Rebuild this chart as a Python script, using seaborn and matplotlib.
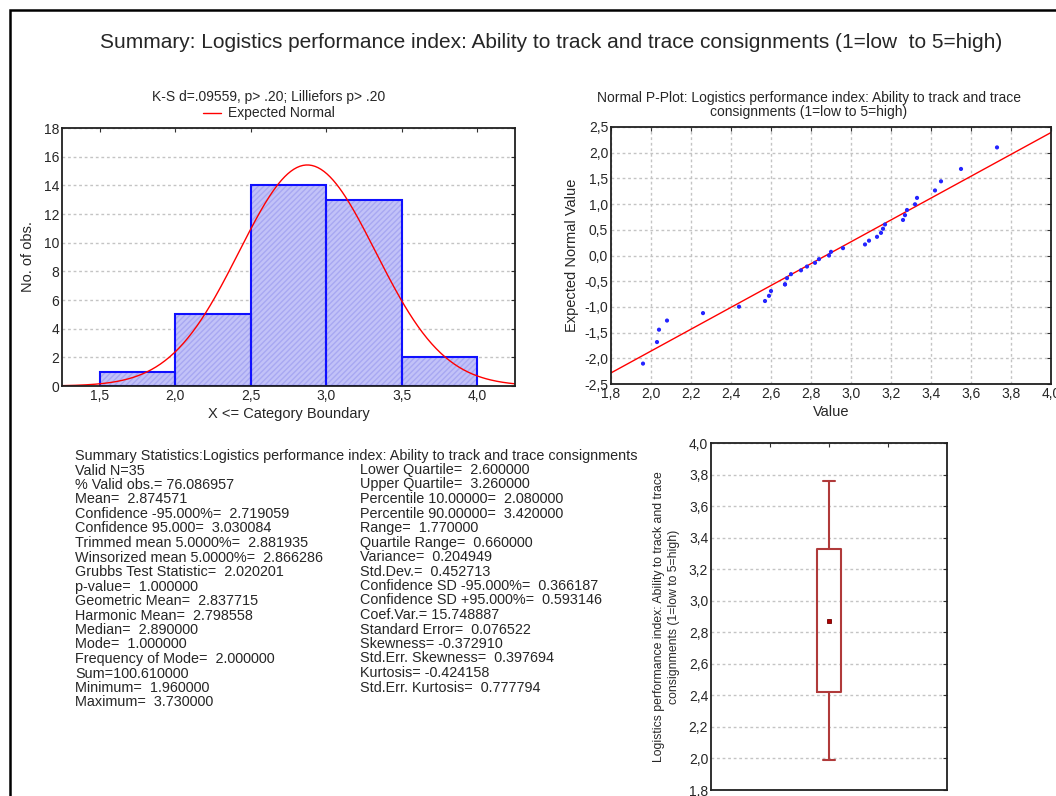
import numpy as np
import pandas as pd
import matplotlib
matplotlib.use('Agg')
import matplotlib.pyplot as plt
from matplotlib.patches import Rectangle
from matplotlib.ticker import FuncFormatter
from statistics import NormalDist
import seaborn as sns

sns.set_style('white')
plt.rcParams['font.family'] = ['Liberation Sans', 'DejaVu Sans']

values = [1.96, 2.03, 2.04, 2.08, 2.26, 2.44, 2.57, 2.59, 2.60, 2.67, 2.67, 2.68,
          2.70, 2.75, 2.78, 2.82, 2.84, 2.89, 2.90, 2.96, 3.07, 3.09, 3.13, 3.15,
          3.16, 3.17, 3.26, 3.27, 3.28, 3.32, 3.33, 3.42, 3.45, 3.55, 3.73]
bin_edges = [1.5, 2.0, 2.5, 3.0, 3.5, 4.0]
mean_val = 2.874571
sd_val = 0.452713

main_title = 'Summary: Logistics performance index: Ability to track and trace consignments (1=low  to 5=high)'
hist_title = 'K-S d=.09559, p> .20; Lilliefors p> .20'
pplot_title = 'Normal P-Plot: Logistics performance index: Ability to track and trace\nconsignments (1=low to 5=high)'
box_ylabel = 'Logistics performance index: Ability to track and trace\nconsignments (1=low to 5=high)'

stats_left = [
    'Summary Statistics:Logistics performance index: Ability to track and trace consignments',
    'Valid N=35',
    '% Valid obs.= 76.086957',
    'Mean=  2.874571',
    'Confidence -95.000%=  2.719059',
    'Confidence 95.000=  3.030084',
    'Trimmed mean 5.0000%=  2.881935',
    'Winsorized mean 5.0000%=  2.866286',
    'Grubbs Test Statistic=  2.020201',
    'p-value=  1.000000',
    'Geometric Mean=  2.837715',
    'Harmonic Mean=  2.798558',
    'Median=  2.890000',
    'Mode=  1.000000',
    'Frequency of Mode=  2.000000',
    'Sum=100.610000',
    'Minimum=  1.960000',
    'Maximum=  3.730000',
]
stats_right = [
    'Lower Quartile=  2.600000',
    'Upper Quartile=  3.260000',
    'Percentile 10.00000=  2.080000',
    'Percentile 90.00000=  3.420000',
    'Range=  1.770000',
    'Quartile Range=  0.660000',
    'Variance=  0.204949',
    'Std.Dev.=  0.452713',
    'Confidence SD -95.000%=  0.366187',
    'Confidence SD +95.000%=  0.593146',
    'Coef.Var.= 15.748887',
    'Standard Error=  0.076522',
    'Skewness= -0.372910',
    'Std.Err. Skewness=  0.397694',
    'Kurtosis= -0.424158',
    'Std.Err. Kurtosis=  0.777794',
]

df = pd.DataFrame({'value': values})
n = len(df)
ranks = df['value'].rank(method='average')
nd = NormalDist()
df['expected'] = [nd.inv_cdf((r - 0.375) / (n + 0.25)) for r in ranks]

W, H = 1056, 796
fig = plt.figure(figsize=(W / 100, H / 100), dpi=100)


def px(x0, y0, x1, y1):
    return [x0 / W, 1 - y1 / H, (x1 - x0) / W, (y1 - y0) / H]


comma = FuncFormatter(lambda v, _: f'{v:.1f}'.replace('.', ','))
grid_kw = dict(color='#c4c4c4', linestyle=(0, (2, 2)), linewidth=1.0)


def style_axes(ax):
    for s in ax.spines.values():
        s.set_color('#202020')
        s.set_linewidth(1.3)
    ax.tick_params(direction='in', top=True, right=True, length=3,
                   labelsize=10, color='#303030', pad=2)


# ---- histogram ----
ax1 = fig.add_axes(px(62, 128, 515, 386))
sns.histplot(x=values, bins=bin_edges, ax=ax1, stat='count',
             color='#c2c2f8', edgecolor='#a8a8f2', linewidth=0, hatch='//////',
             alpha=1)
sns.histplot(x=values, bins=bin_edges, ax=ax1, stat='count', fill=False,
             color='#1010ff', linewidth=1.5)
xs = np.linspace(1.25, 4.25, 300)
ys = n * 0.5 * np.array([NormalDist(mean_val, sd_val).pdf(v) for v in xs])
sns.lineplot(x=xs, y=ys, ax=ax1, color='#ff0000', linewidth=1.0)
ax1.set_xlim(1.25, 4.25)
ax1.set_ylim(0, 18)
ax1.set_yticks(range(0, 19, 2))
ax1.set_xticks(bin_edges)
ax1.xaxis.set_major_formatter(comma)
ax1.yaxis.grid(True, **grid_kw)
ax1.set_axisbelow(True)
style_axes(ax1)
ax1.set_xlabel('X <= Category Boundary', fontsize=10.5, labelpad=3)
ax1.set_ylabel('No. of obs.', fontsize=10.5, labelpad=6)
fig.text(269 / W, 1 - 97 / H, hist_title, ha='center', va='center', fontsize=10)
fig.add_artist(plt.Line2D([203 / W, 221 / W], [1 - 113 / H, 1 - 113 / H],
                          color='#ff0000', linewidth=1.0))
fig.text(228 / W, 1 - 113 / H, 'Expected Normal', ha='left', va='center', fontsize=10)

# ---- normal probability plot ----
ax2 = fig.add_axes(px(611, 127, 1051, 384))
slope, intercept = np.polyfit(df['value'], df['expected'], 1)
lx = np.array([1.8, 4.0])
sns.lineplot(x=lx, y=slope * lx + intercept, ax=ax2, color='#ff0000', linewidth=1.0)
sns.scatterplot(data=df, x='value', y='expected', ax=ax2, color='#2424ff',
                s=9, edgecolor='none', zorder=3)
ax2.set_xlim(1.8, 4.0)
ax2.set_ylim(-2.5, 2.5)
ax2.set_xticks(np.arange(1.8, 4.01, 0.2))
ax2.set_yticks(np.arange(-2.5, 2.51, 0.5))
ax2.xaxis.set_major_formatter(comma)
ax2.yaxis.set_major_formatter(comma)
ax2.grid(True, **grid_kw)
ax2.set_axisbelow(True)
style_axes(ax2)
ax2.set_xlabel('Value', fontsize=10.5, labelpad=3)
ax2.set_ylabel('Expected Normal Value', fontsize=10.5, labelpad=4)
fig.text(809 / W, 1 - 105 / H, pplot_title, ha='center', va='center',
         fontsize=10, linespacing=1.05)

# ---- box plot (mean, +/- SD, +/- 1.96 SD) ----
ax3 = fig.add_axes(px(711, 443, 947, 790))
box_stats = [{
    'med': mean_val, 'mean': mean_val,
    'q1': mean_val - sd_val, 'q3': mean_val + sd_val,
    'whislo': mean_val - 1.96 * sd_val, 'whishi': mean_val + 1.96 * sd_val,
    'fliers': [],
}]
box_col = '#b03a3a'
ax3.bxp(box_stats, positions=[2], widths=0.4, capwidths=0.19, showmeans=True,
        showfliers=False, patch_artist=False,
        boxprops=dict(color=box_col, linewidth=1.5),
        whiskerprops=dict(color=box_col, linewidth=1.5),
        capprops=dict(color=box_col, linewidth=1.5),
        medianprops=dict(linewidth=0),
        meanprops=dict(marker='s', markersize=3.5, markerfacecolor='#b00000',
                       markeredgecolor='#700000', markeredgewidth=0.6))
ax3.set_xlim(0, 4)
ax3.set_ylim(1.8, 4.0)
ax3.set_xticks([1, 2, 3])
ax3.set_xticklabels([])
ax3.set_yticks(np.arange(1.8, 4.01, 0.2))
ax3.yaxis.set_major_formatter(comma)
ax3.yaxis.grid(True, **grid_kw)
ax3.set_axisbelow(True)
style_axes(ax3)
ax3.set_ylabel(box_ylabel, fontsize=8.8, labelpad=6, linespacing=1.35)

# ---- summary statistics text ----
line_h = 14.5
for i, line in enumerate(stats_left):
    fig.text(75 / W, 1 - (456 + i * line_h) / H, line, ha='left', va='center', fontsize=10.4)
for i, line in enumerate(stats_right):
    fig.text(360 / W, 1 - (470 + i * line_h) / H, line, ha='left', va='center', fontsize=10.4)

# ---- main title and frame ----
fig.text(551 / W, 1 - 42 / H, main_title, ha='center', va='center', fontsize=15)
fig.add_artist(Rectangle((10 / W, -0.1), 1.5, 1 - 10 / H + 0.1, fill=False,
                         edgecolor='black', linewidth=1.8, transform=fig.transFigure))

fig.savefig('out.png', dpi=100)
